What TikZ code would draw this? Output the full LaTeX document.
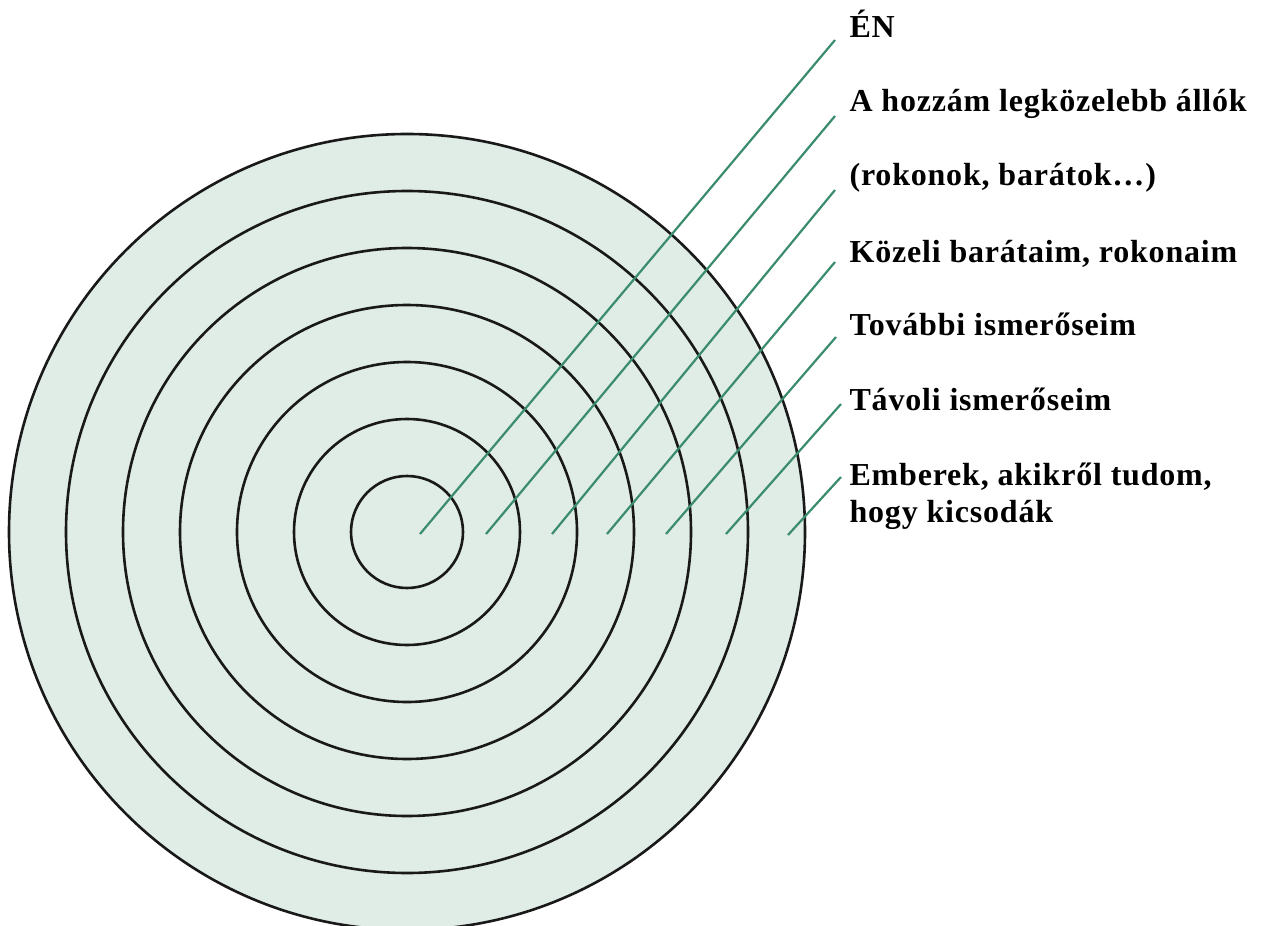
\documentclass[tikz,border=0pt]{standalone}
\usepackage{fontspec}
\setmainfont{Liberation Serif}[LetterSpace=2.5]
\definecolor{ring_fill}{RGB}{224,236,230}
\definecolor{ring_edge}{RGB}{25,25,25}
\definecolor{ray_green}{RGB}{58,140,108}

\begin{document}
\begin{tikzpicture}[x=0.5pt,y=-0.5pt,semithick]
    \tikzstyle{ring}=[draw=ring_edge, line width=1.3pt]
    \tikzstyle{ray}=[draw=ray_green, line width=1.1pt]
    \tikzstyle{lbl}=[anchor=base west, inner sep=0pt, text=black, align=left,
                     font=\bfseries\fontsize{16}{18.5}\selectfont]

    \useasboundingbox (0,0) rectangle (1265,926);
    \clip (0,0) rectangle (1265,926);

    % the rings
    \coordinate (c) at (407,532);
    \fill[ring_fill] (c) circle[radius=398];
    \foreach \r in {398,341,284,227,170,113,56}
        \draw[ring] (c) circle[radius=\r];

    % inner ends of the rays
    \coordinate (s1) at (420,534);
    \coordinate (s2) at (486,534);
    \coordinate (s3) at (552,534);
    \coordinate (s4) at (607,534);
    \coordinate (s5) at (666,534);
    \coordinate (s6) at (726,534);
    \coordinate (s7) at (788,535);

    % outer ends, next to the labels
    \coordinate (e1) at (835,40);
    \coordinate (e2) at (835,116);
    \coordinate (e3) at (835,190);
    \coordinate (e4) at (835,262);
    \coordinate (e5) at (836,337);
    \coordinate (e6) at (841,404);
    \coordinate (e7) at (841,477);

    \node[lbl] (en)  at (849,38)  {ÉN};
    \node[lbl] (leg) at (849,112) {A hozzám legközelebb állók};
    \node[lbl] (rok) at (849,185) {(rokonok, barátok…)};
    \node[lbl] (koz) at (849,262) {Közeli barátaim, rokonaim};
    \node[lbl] (tov) at (849,335) {További ismerőseim};
    \node[lbl] (tav) at (849,410) {Távoli ismerőseim};
    \node[lbl] (emb) at (849,522) {Emberek, akikről tudom,\\hogy kicsodák};

    \path
     (s1) edge[ray] (e1)
     (s2) edge[ray] (e2)
     (s3) edge[ray] (e3)
     (s4) edge[ray] (e4)
     (s5) edge[ray] (e5)
     (s6) edge[ray] (e6)
     (s7) edge[ray] (e7)
     ;
\end{tikzpicture}
\end{document}
